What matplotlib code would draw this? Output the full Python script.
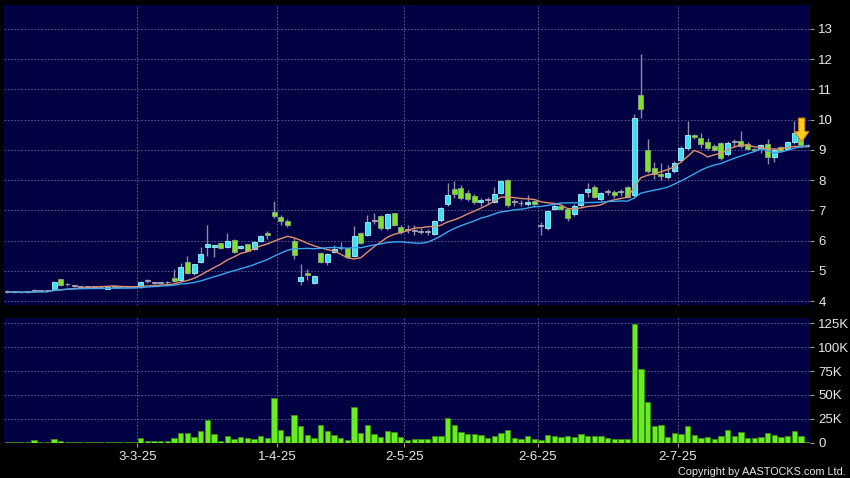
import numpy as np
import pandas as pd
import matplotlib
matplotlib.use("Agg")
import matplotlib.pyplot as plt

plt.rcParams["font.family"] = ["Liberation Sans", "DejaVu Sans"]

# daily bars, 3 Feb 2025 .. 29 Jul 2025 (trading days only)
opens = [4.33, 4.30, 4.29, 4.30, 4.33, 4.34, 4.33, 4.39, 4.72, 4.55,
         4.50, 4.48, 4.47, 4.46, 4.45, 4.41, 4.46, 4.47, 4.47, 4.47,
         4.47, 4.66, 4.60, 4.60, 4.62, 4.75, 4.70, 5.30, 4.92, 5.30,
         5.78, 5.80, 5.91, 5.78, 6.02, 5.75, 5.88, 5.72, 5.98, 6.24,
         6.96, 6.79, 6.66, 6.00, 4.67, 4.92, 4.59, 5.58, 5.30, 5.62,
         5.74, 5.74, 5.49, 6.24, 6.19, 6.64, 6.81, 6.41, 6.90, 6.46,
         6.35, 6.33, 6.30, 6.28, 6.22, 6.68, 7.20, 7.70, 7.73, 7.57,
         7.49, 7.27, 7.34, 7.29, 7.59, 8.00, 7.29, 7.23, 7.20, 7.32,
         6.49, 6.41, 7.04, 7.14, 7.04, 6.88, 7.18, 7.61, 7.78, 7.37,
         7.62, 7.60, 7.60, 7.78, 7.51, 10.80, 9.00, 8.39, 8.20, 8.10,
         8.31, 8.67, 9.06, 9.50, 9.39, 9.27, 9.13, 9.22, 8.87, 9.27,
         9.28, 9.20, 9.02, 9.06, 9.20, 8.76, 9.09, 9.03, 9.27, 9.40,
         9.14]
highs = [4.35, 4.32, 4.31, 4.33, 4.40, 4.38, 4.35, 4.66, 4.74, 4.60,
         4.52, 4.51, 4.49, 4.49, 4.47, 4.48, 4.49, 4.50, 4.49, 4.50,
         4.66, 4.72, 4.64, 4.64, 4.66, 5.05, 5.26, 5.49, 5.24, 5.79,
         6.52, 5.86, 5.93, 6.24, 6.05, 5.86, 5.90, 5.98, 6.20, 6.33,
         7.32, 6.85, 6.70, 6.10, 5.21, 5.05, 4.86, 5.62, 5.58, 5.87,
         5.96, 5.76, 6.48, 6.30, 6.85, 6.92, 6.85, 6.90, 6.92, 6.50,
         6.50, 6.50, 6.40, 6.38, 6.67, 7.12, 7.90, 7.97, 7.85, 7.68,
         7.55, 7.42, 7.45, 7.78, 8.00, 8.02, 7.38, 7.35, 7.51, 7.35,
         6.60, 7.00, 7.25, 7.18, 7.06, 7.20, 7.55, 7.92, 7.85, 7.62,
         7.72, 7.68, 7.72, 7.80, 10.20, 12.18, 9.35, 8.60, 8.55, 8.50,
         8.62, 9.12, 9.97, 9.52, 9.55, 9.40, 9.20, 9.25, 9.30, 9.35,
         9.62, 9.25, 9.05, 9.20, 9.35, 9.05, 9.12, 9.30, 9.96, 9.45,
         9.20]
lows = [4.27, 4.27, 4.26, 4.28, 4.30, 4.31, 4.30, 4.37, 4.50, 4.50,
        4.47, 4.45, 4.45, 4.44, 4.43, 4.40, 4.44, 4.45, 4.45, 4.45,
        4.44, 4.60, 4.56, 4.57, 4.58, 4.64, 4.66, 4.90, 4.85, 5.26,
        5.48, 5.47, 5.72, 5.76, 5.60, 5.72, 5.64, 5.70, 5.95, 6.05,
        6.75, 6.50, 6.45, 5.38, 4.53, 4.70, 4.55, 5.25, 5.19, 5.58,
        5.68, 5.44, 5.45, 5.88, 6.15, 6.55, 6.35, 6.35, 6.48, 6.22,
        6.25, 6.20, 6.22, 6.20, 6.18, 6.62, 7.15, 7.42, 7.35, 7.30,
        7.20, 7.15, 7.20, 7.25, 7.55, 7.12, 7.15, 7.15, 7.15, 7.10,
        6.18, 6.35, 7.00, 7.00, 6.65, 6.80, 7.12, 7.45, 7.40, 7.32,
        7.50, 7.42, 7.48, 7.40, 7.45, 10.05, 8.25, 8.05, 8.00, 8.02,
        8.25, 8.60, 9.00, 9.35, 9.05, 9.00, 8.95, 8.65, 8.80, 9.10,
        9.05, 8.98, 8.95, 8.90, 8.52, 8.60, 8.92, 9.00, 9.20, 9.10,
        9.10]
closes = [4.30, 4.30, 4.29, 4.30, 4.33, 4.34, 4.33, 4.64, 4.53, 4.55,
          4.50, 4.48, 4.47, 4.46, 4.45, 4.47, 4.46, 4.47, 4.47, 4.47,
          4.62, 4.66, 4.60, 4.60, 4.62, 4.67, 5.14, 4.94, 5.21, 5.56,
          5.88, 5.84, 5.75, 6.00, 5.63, 5.83, 5.67, 5.96, 6.15, 6.18,
          6.81, 6.66, 6.52, 5.52, 4.78, 4.85, 4.83, 5.30, 5.56, 5.72,
          5.74, 5.47, 6.16, 5.93, 6.63, 6.64, 6.40, 6.87, 6.52, 6.28,
          6.35, 6.33, 6.30, 6.28, 6.65, 7.09, 7.51, 7.53, 7.40, 7.37,
          7.27, 7.33, 7.34, 7.54, 7.97, 7.17, 7.29, 7.23, 7.28, 7.20,
          6.49, 6.99, 7.15, 7.04, 6.74, 7.15, 7.53, 7.70, 7.45, 7.57,
          7.62, 7.51, 7.60, 7.43, 10.05, 10.35, 8.31, 8.20, 8.12, 8.25,
          8.56, 9.06, 9.50, 9.42, 9.20, 9.06, 8.99, 8.72, 9.24, 9.27,
          9.12, 9.02, 8.98, 9.16, 8.78, 9.00, 8.97, 9.27, 9.57, 9.15,
          9.14]
# volume in thousands of shares
volumes = [0.5, 0.3, 0.3, 0.4, 2.4, 0.6, 0.4, 3.8, 1.6, 1.0,
           0.4, 1.0, 0.5, 1.0, 0.4, 0.5, 0.6, 1.0, 1.2, 1.2,
           5.0, 1.5, 2.0, 2.3, 1.5, 4.5, 10.5, 10.0, 6.0, 12.5,
           24.0, 9.0, 2.3, 7.5, 4.0, 6.5, 4.5, 3.5, 7.5, 5.0,
           46.5, 13.0, 7.0, 29.5, 18.0, 8.5, 4.5, 18.5, 12.0, 8.0,
           5.0, 3.0, 37.0, 10.5, 19.0, 9.0, 6.0, 12.5, 11.0, 5.5,
           2.5, 4.0, 4.0, 3.5, 7.0, 7.5, 25.5, 18.5, 11.5, 9.0,
           9.5, 8.0, 4.5, 7.5, 10.5, 13.5, 5.0, 4.0, 7.0, 4.0,
           2.5, 8.5, 7.0, 6.0, 7.0, 5.5, 9.0, 7.0, 7.0, 7.0,
           5.0, 4.0, 4.0, 4.0, 124.5, 77.0, 43.0, 17.5, 19.0, 6.0,
           10.0, 9.5, 17.0, 8.0, 5.0, 6.0, 4.0, 7.0, 13.0, 7.0,
           11.0, 5.0, 4.5, 5.5, 10.5, 8.0, 5.5, 7.0, 12.0, 7.5,
           1.0]

tick_index = [20, 41, 60, 80, 101]
tick_labels = ["3-3-25", "1-4-25", "2-5-25", "2-6-25", "2-7-25"]
price_ticks = [4, 5, 6, 7, 8, 9, 10, 11, 12, 13]
vol_ticks = [0, 25, 50, 75, 100, 125]
vol_tick_labels = ["0", "25K", "50K", "75K", "100K", "125K"]

o = np.array(opens)
h = np.array(highs)
l = np.array(lows)
c = np.array(closes)
v = np.array(volumes) * 1000
x = np.arange(len(c))

ma10 = pd.Series(c).rolling(10, min_periods=1).mean()
ma20 = pd.Series(c).rolling(20, min_periods=1).mean()

bg = "black"
panel = "#000042"
gridc = "#66669a"
txt = "#e8e8e8"

fig = plt.figure(figsize=(8.5, 4.78), dpi=100, facecolor=bg)
ax = fig.add_axes([4/850, 173/478, 806/850, 300/478], facecolor=panel)
axv = fig.add_axes([4/850, 35/478, 806/850, 125/478], facecolor=panel, sharex=ax)

# candles: cyan up, green down, grey unchanged
body_col = []
edge_col = []
for i in range(len(c)):
    if c[i] > o[i]:
        body_col.append("#38e2f2")
        edge_col.append("#a8f2ff")
    elif c[i] < o[i]:
        body_col.append("#80e22c")
        edge_col.append("#8aa878")
    else:
        body_col.append("#a8a8b8")
        edge_col.append("#a8a8b8")
ax.vlines(x, l, h, color="#8c8ca4", lw=1, zorder=2)
bottoms = np.minimum(o, c)
heights = np.maximum(np.abs(c - o), 0.025)
ax.bar(x, heights, bottom=bottoms, width=0.75, color=body_col,
       edgecolor=edge_col, linewidth=0.6, zorder=3)

ax.plot(x, ma10, color="#e0906c", lw=1, zorder=4)
ax.plot(x, ma20, color="#3aa6ee", lw=1, zorder=4)

# yellow marker arrow over the last bars
ax.arrow(119.1, 10.05, 0, -0.78, width=0.9, head_width=2.1, head_length=0.33,
         length_includes_head=True, fc="#ffcc22", ec="#d88a00", lw=0.8, zorder=6)

ax.set_xlim(-0.5, 120.35)
ax.set_ylim(3.87, 13.79)
ax.set_yticks(price_ticks)
ax.set_yticklabels([str(t) for t in price_ticks])

# volume
axv.bar(x, v, width=0.8, color="#66ee1e", edgecolor="#3c8c14", linewidth=0.6, zorder=3)
axv.set_ylim(-300, 130500)
axv.set_yticks([t * 1000 for t in vol_ticks])
axv.set_yticklabels(vol_tick_labels)
axv.set_xticks([t - 0.5 for t in tick_index])
axv.set_xticklabels(tick_labels)

for a in (ax, axv):
    a.yaxis.tick_right()
    a.tick_params(axis="y", colors="#9a9a9a", labelcolor=txt, labelsize=9.5,
                  length=3, width=0.8, pad=3)
    a.tick_params(axis="x", colors="#9a9a9a", labelcolor=txt, labelsize=9.5,
                  length=3, width=0.8, pad=3)
    a.grid(True, color=gridc, linestyle=(0, (2, 2)), linewidth=0.6)
    a.set_axisbelow(True)
    for s in a.spines.values():
        s.set_visible(False)
ax.set_xticks([t - 0.5 for t in tick_index])
ax.tick_params(axis="x", length=0, labelbottom=False)

fig.text(0.995, 0.003, "Copyright by AASTOCKS.com Ltd.", ha="right", va="bottom",
         fontsize=7.8, color=txt)

fig.savefig("out.png", dpi=100, facecolor=bg)
